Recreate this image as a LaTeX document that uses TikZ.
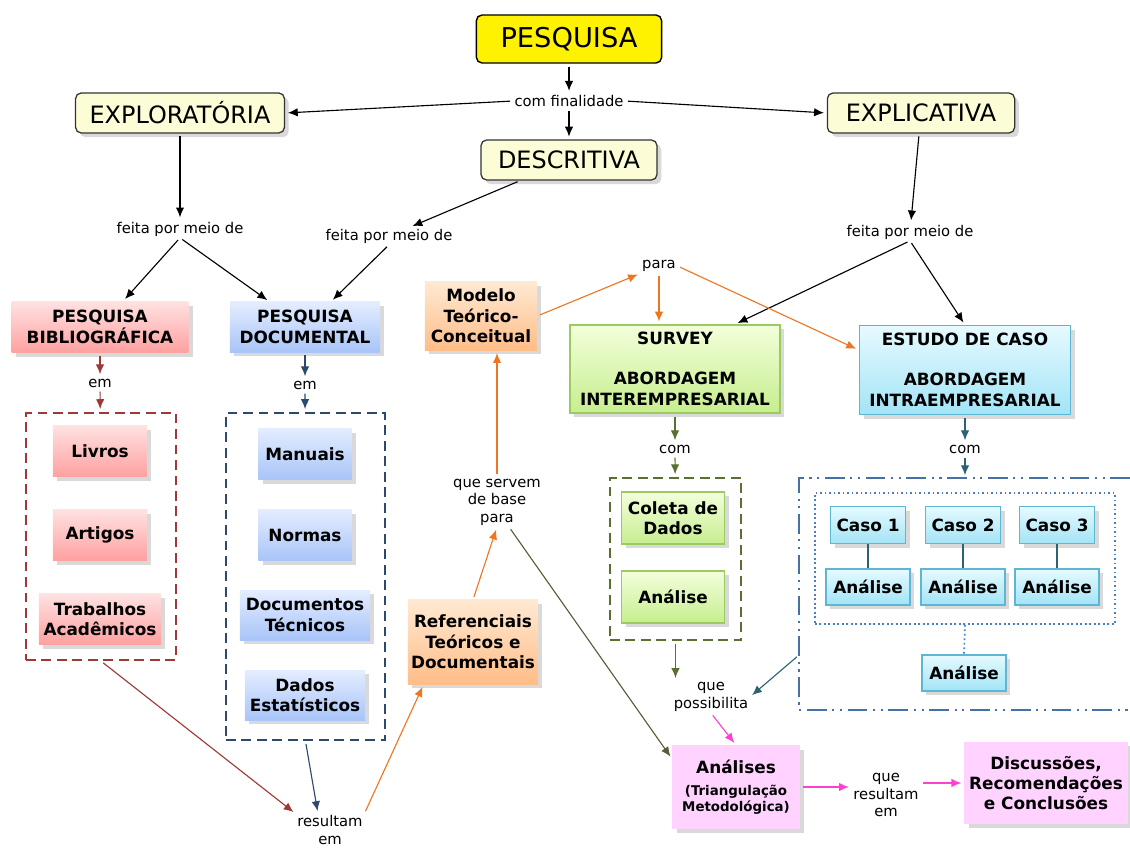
\documentclass[tikz,border=0pt]{standalone}
\usepackage{fontspec}
\setmainfont{DejaVu Sans}
\usetikzlibrary{arrows.meta, shadows, positioning}

\definecolor{cream}{HTML}{FCFDD6}
\definecolor{pinktop}{HTML}{FFE2E2}
\definecolor{pinkbot}{HTML}{FFA0A0}
\definecolor{bluetop}{HTML}{E4EDFF}
\definecolor{bluebot}{HTML}{A8C4F8}
\definecolor{orgtop}{HTML}{FFE9D2}
\definecolor{orgbot}{HTML}{FFBD88}
\definecolor{grntop}{HTML}{F3FFDB}
\definecolor{grnbot}{HTML}{C6EE8E}
\definecolor{grnline}{HTML}{9BCB60}
\definecolor{cyntop}{HTML}{E6FAFF}
\definecolor{cynbot}{HTML}{A2E4F6}
\definecolor{cynline}{HTML}{5DB6D3}
\definecolor{lilac}{HTML}{FFD2FF}
\definecolor{redc}{HTML}{A03838}
\definecolor{navyc}{HTML}{2B4A6E}
\definecolor{orgc}{HTML}{EE7623}
\definecolor{grnc}{HTML}{5A7030}
\definecolor{tealc}{HTML}{2D6273}
\definecolor{magc}{HTML}{FF3FD0}
\definecolor{olivec}{HTML}{5C5A3A}
\definecolor{ddc}{HTML}{4670A8}
\definecolor{dotc}{HTML}{4A80C0}

\begin{document}
\begin{tikzpicture}[x=0.025cm, y=-0.025cm,
    every node/.style={font=\fontsize{10.5}{12.5}\selectfont},
    lbl/.style={inner sep=1pt, align=center},
    shade/.style={drop shadow={opacity=0.3, shadow xshift=3pt, shadow yshift=-3pt}},
    topbox/.style={draw=black, line width=1pt, rounded corners=4pt, fill=yellow, minimum width=4.63cm, minimum height=1.2cm, font=\fontsize{19.4}{22}\selectfont},
    typebox/.style={draw=black!80, line width=0.9pt, rounded corners=4pt, fill=cream, minimum height=1cm, font=\fontsize{17}{20}\selectfont, shade},
    cbox/.style={align=center, inner sep=2pt, font=\fontsize{12}{14.5}\selectfont\bfseries, shade},
    pinkbox/.style={cbox, top color=pinktop, bottom color=pinkbot},
    bluebox/.style={cbox, top color=bluetop, bottom color=bluebot},
    orgbox/.style={cbox, top color=orgtop, bottom color=orgbot},
    grnbox/.style={cbox, top color=grntop, bottom color=grnbot, draw=grnline, line width=1pt},
    cynbox/.style={cbox, top color=cyntop, bottom color=cynbot, draw=cynline, line width=1pt},
    lilbox/.style={cbox, fill=lilac},
    grpbox/.style={line width=1.4pt, dash pattern=on 7pt off 4pt},
    arr/.style={-{Latex[length=7pt,width=6pt]}, line width=0.8pt, shorten >=2pt, shorten <=2pt},
  ]
  \useasboundingbox (0,0) rectangle (1130,848);

  % topo
  \node[topbox] (pesq) at (569,39) {PESQUISA};
  \node[lbl] (fin) at (569,101) {com finalidade};
  \node[typebox, minimum width=5.22cm] (explo) at (180,113) {EXPLORATÓRIA};
  \node[typebox, minimum width=4.4cm] (desc) at (569,160) {DESCRITIVA};
  \node[typebox, minimum width=4.68cm] (explic) at (921,113) {EXPLICATIVA};
  \node[lbl] (fp1) at (180,229) {feita por meio de};
  \node[lbl] (fp2) at (389,236) {feita por meio de};
  \node[lbl] (fp3) at (910,232) {feita por meio de};

  % pesquisa bibliografica
  \node[pinkbox, minimum width=4.42cm, minimum height=1.28cm] (pbib) at (100,327) {PESQUISA\\BIBLIOGRÁFICA};
  \node[lbl] (em1) at (100,383) {em};
  \node[grpbox, draw=redc, minimum width=3.75cm, minimum height=6.18cm] (bibgrp) at (101,536.5) {};
  \node[pinkbox, minimum width=2.35cm, minimum height=1.28cm] (livros) at (100,451) {Livros};
  \node[pinkbox, minimum width=2.35cm, minimum height=1.28cm] (artigos) at (100,535) {Artigos};
  \node[pinkbox, minimum width=3.05cm, minimum height=1.28cm] (trab) at (100,619) {Trabalhos\\Acadêmicos};

  % pesquisa documental
  \node[bluebox, minimum width=3.75cm, minimum height=1.25cm] (pdoc) at (305,327) {PESQUISA\\DOCUMENTAL};
  \node[lbl] (em2) at (305,385) {em};
  \node[grpbox, draw=navyc, minimum width=3.98cm, minimum height=8.18cm] (docgrp) at (305.5,576.5) {};
  \node[bluebox, minimum width=2.33cm, minimum height=1.28cm] (manuais) at (305,454) {Manuais};
  \node[bluebox, minimum width=2.33cm, minimum height=1.28cm] (normas) at (305,535) {Normas};
  \node[bluebox, minimum width=3.25cm, minimum height=1.25cm] (doctec) at (305,615) {Documentos\\Técnicos};
  \node[bluebox, minimum width=3cm, minimum height=1.25cm] (dados) at (305,695) {Dados\\Estatísticos};
  \node[lbl] (res) at (330,830) {resultam\\em};

  % referenciais e modelo
  \node[orgbox, minimum width=3.25cm, minimum height=2.1cm] (ref) at (473,642) {Referenciais\\Teóricos e\\Documentais};
  \node[lbl] (serve) at (497,502) {que servem\\de base\\para};
  \node[orgbox, minimum width=2.8cm, minimum height=1.7cm] (modelo) at (481,316) {Modelo\\Teórico-\\Conceitual};
  \node[lbl] (para) at (659,266) {para};

  % survey
  \node[grnbox, minimum width=5.25cm, minimum height=2.2cm] (survey) at (675,369) {SURVEY\\[14pt]ABORDAGEM\\INTEREMPRESARIAL};
  \node[lbl] (com1) at (675,449) {com};
  \node[grpbox, draw=grnc, minimum width=3.28cm, minimum height=4.05cm] (grngrp) at (675.5,559) {};
  \node[grnbox, minimum width=2.58cm, minimum height=1.3cm] (coleta) at (673,518) {Coleta de\\Dados};
  \node[grnbox, minimum width=2.58cm, minimum height=1.3cm] (ansv) at (673,597) {Análise};

  % estudo de caso
  \node[cynbox, minimum width=5.28cm, minimum height=2.22cm] (estudo) at (965,370) {ESTUDO DE CASO\\[14pt]ABORDAGEM\\INTRAEMPRESARIAL};
  \node[lbl] (com2) at (965,449) {com};
  \draw[ddc, line width=1.4pt, dash pattern=on 14pt off 4pt on 1.5pt off 4pt on 1.5pt off 4pt] (1130,478) -| (799,710) -- (1130,710);
  \coordinate (ddtop) at (965,478);
  \coordinate (ddleft) at (799,655);
  \node[draw=dotc, line width=1.2pt, dotted, minimum width=7.5cm, minimum height=3.28cm] (casos) at (965,558.5) {};
  \node[cynbox, minimum width=1.88cm, minimum height=0.93cm] (caso1) at (868,525) {Caso 1};
  \node[cynbox, minimum width=1.88cm, minimum height=0.93cm] (caso2) at (963,525) {Caso 2};
  \node[cynbox, minimum width=1.88cm, minimum height=0.93cm] (caso3) at (1057,525) {Caso 3};
  \node[cynbox, minimum width=2.1cm, minimum height=0.9cm] (an1) at (868,587) {Análise};
  \node[cynbox, minimum width=2.1cm, minimum height=0.9cm] (an2) at (963,587) {Análise};
  \node[cynbox, minimum width=2.1cm, minimum height=0.9cm] (an3) at (1057,587) {Análise};
  \node[cynbox, minimum width=2.1cm, minimum height=0.9cm] (anfim) at (964,673) {Análise};

  % analises finais
  \node[lbl] (poss) at (711,697) {que\\possibilita};
  \node[lilbox, font=\fontsize{9.5}{11.5}\selectfont\bfseries, minimum width=3.18cm, minimum height=2.08cm] (analises) at (736,787) {{\fontsize{12}{14.5}\selectfont Análises}\\[4pt](Triangulação\\Metodológica)};
  \node[lbl] (res2) at (886,795) {que\\resultam\\em};
  \node[lilbox, minimum width=4.08cm, minimum height=2.05cm] (disc) at (1046,783) {Discussões,\\Recomendações\\e Conclusões};

  % ligacoes pretas
  \draw[arr] (pesq) -- (fin);
  \draw[arr] (fin) -- (desc);
  \draw[arr] (fin.west) -- (explo.east);
  \draw[arr] (fin.east) -- (explic.west);
  \draw[arr] (explo) -- (fp1);
  \draw[arr] (desc) -- (fp2);
  \draw[arr] (explic) -- (fp3);
  \draw[arr] (fp1.south) -- (pbib);
  \draw[arr] (fp1.south) -- (pdoc);
  \draw[arr] (fp2.south) -- (pdoc);
  \draw[arr] (fp3.south) -- ([xshift=1.5cm]survey.north);
  \draw[arr] (fp3.south) -- (estudo.north);

  % ligacoes coloridas
  \draw[arr, redc] (pbib) -- (em1);
  \draw[arr, redc] (em1) -- (bibgrp);
  \draw[arr, redc] (bibgrp.south) -- (res.north west);
  \draw[arr, navyc] (pdoc) -- (em2);
  \draw[arr, navyc] (em2) -- (docgrp);
  \draw[arr, navyc] (docgrp.south) -- ([xshift=-0.3cm]res.north);
  \draw[arr, orgc] (res.north east) -- ([xshift=0.4cm]ref.south west);
  \draw[arr, orgc] (ref.north) -- (serve.south);
  \draw[arr, orgc] (serve.north) -- (serve.north |- modelo.south);
  \draw[arr, orgc] (modelo.east) -- (para.south west);
  \draw[arr, orgc] (para.south) -- (para.south |- survey.north);
  \draw[arr, orgc] (para.east) -- ([yshift=0.5cm]estudo.west);
  \draw[arr, olivec] ([xshift=0.3cm]serve.south) -- ([yshift=0.7cm]analises.west);
  \draw[arr, grnc] (survey) -- (com1);
  \draw[arr, grnc] (com1) -- (grngrp);
  \draw[arr, grnc] (grngrp.south) -- (grngrp.south |- poss.north);
  \draw[arr, tealc] (estudo) -- (com2);
  \draw[arr, tealc] (com2) -- (ddtop);
  \draw[arr, tealc] (ddleft) -- (poss.east);
  \draw[tealc, line width=1.2pt] (caso1) -- (an1);
  \draw[tealc, line width=1.2pt] (caso2) -- (an2);
  \draw[tealc, line width=1.2pt] (caso3) -- (an3);
  \draw[dotc, line width=1.2pt, dotted] (casos.south) -- (anfim.north);
  \draw[arr, magc] (poss.south) -- (analises.north);
  \draw[arr, magc] (analises.east) -- (analises.east -| res2.west);
  \draw[arr, magc] (res2.east |- disc.west) -- (disc.west);
\end{tikzpicture}
\end{document}
